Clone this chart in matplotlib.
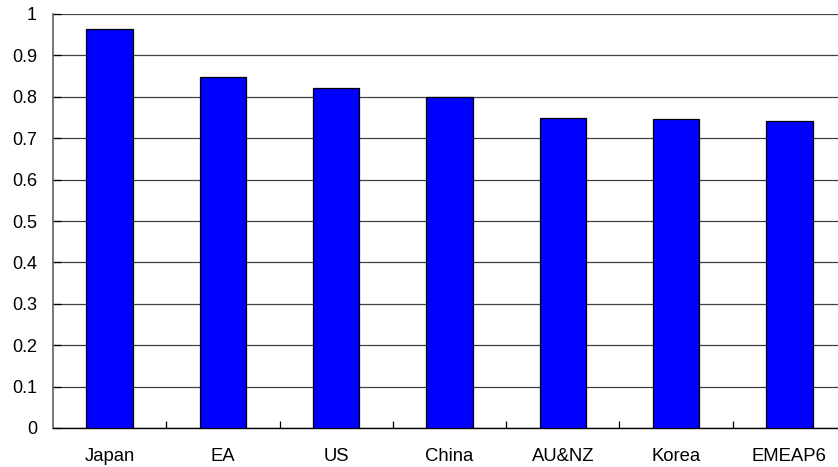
import matplotlib
matplotlib.use("Agg")
import matplotlib.pyplot as plt
import numpy as np

# Değerler
categories = ["Japan", "EA", "US", "China", "AU&NZ", "Korea", "EMEAP6"]
values = [0.964, 0.847, 0.821, 0.800, 0.748, 0.746, 0.741]
yticks = [0, 0.1, 0.2, 0.3, 0.4, 0.5, 0.6, 0.7, 0.8, 0.9, 1]
ytick_labels = ["0", "0.1", "0.2", "0.3", "0.4", "0.5", "0.6", "0.7", "0.8", "0.9", "1"]

plt.rcParams["font.family"] = ["Liberation Sans", "DejaVu Sans"]

fig = plt.figure(figsize=(8.38, 4.67), dpi=100, facecolor="white")
ax = fig.add_axes([53 / 838, 1 - 428 / 467, (838 - 53) / 838, (428 - 14) / 467])

x = np.arange(len(categories))
ax.bar(x, values, width=0.41, color="#0000ff", edgecolor="black",
       linewidth=0.9, zorder=3)

ax.set_ylim(0, 1)
ax.set_xlim(-0.5, len(categories) - 0.5 - 8 / 113)

ax.set_yticks(yticks)
ax.set_yticklabels(ytick_labels)
ax.yaxis.grid(True, color="#404040", linewidth=0.9, zorder=0)

ax.set_xticks(x)
ax.set_xticklabels(categories)
ax.set_xticks(np.arange(len(categories) - 1) + 0.5, minor=True)

ax.tick_params(axis="x", which="major", length=0, pad=14.5, labelsize=13.3)
ax.tick_params(axis="x", which="minor", direction="in", length=5,
               width=0.9, color="black")
ax.tick_params(axis="y", direction="in", length=6, width=0.9,
               color="black", pad=11.5, labelsize=13)

for side in ("top", "right"):
    ax.spines[side].set_visible(False)
ax.spines["left"].set_color("#606060")
ax.spines["left"].set_linewidth(1.2)
ax.spines["bottom"].set_color("black")
ax.spines["bottom"].set_linewidth(1.0)

fig.savefig("out.png", dpi=100)
